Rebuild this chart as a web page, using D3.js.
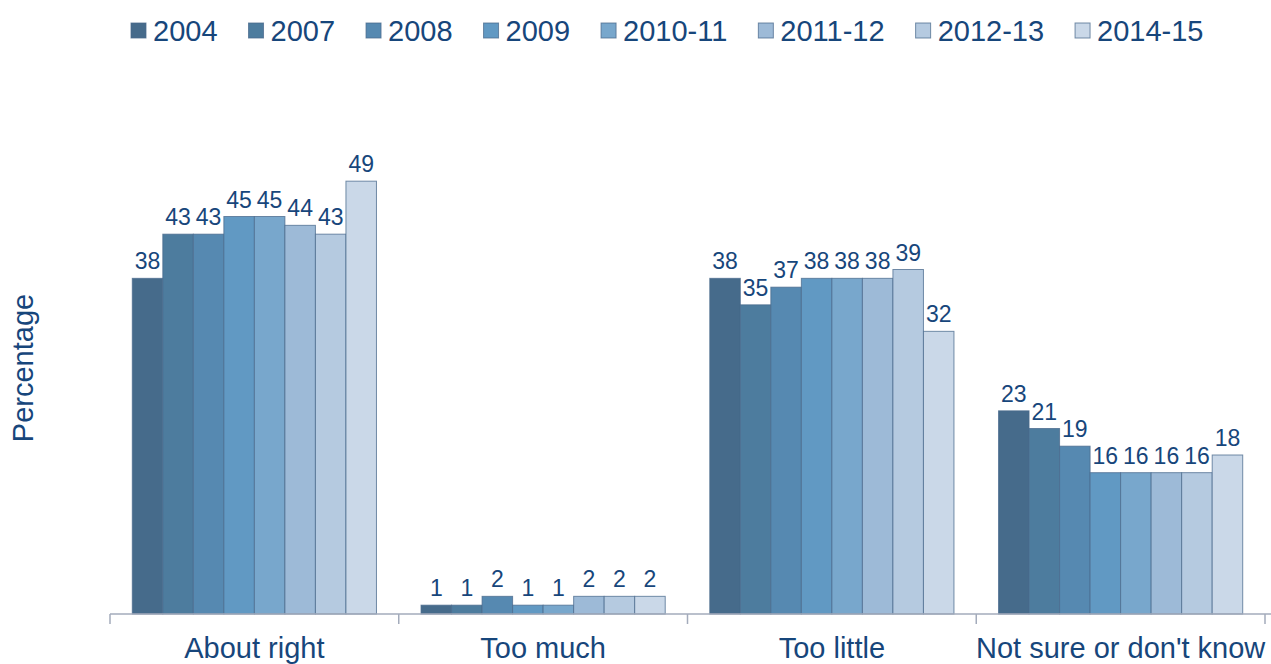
<!DOCTYPE html>
<html>
<head>
<meta charset="utf-8">
<script src="https://cdn.jsdelivr.net/npm/d3@7/dist/d3.min.js"></script>
<style>
  html, body { margin: 0; padding: 0; background: #fff; }
  svg { display: block; font-family: "Liberation Sans", Arial, sans-serif; }
</style>
</head>
<body>
<svg id="chart" width="1271" height="664"></svg>
<script>
const categories = ["About right", "Too much", "Too little", "Not sure or don't know"];
const seriesNames = ["2004", "2007", "2008", "2009", "2010-11", "2011-12", "2012-13", "2014-15"];
const v2004   = [38, 1, 38, 23];
const v2007   = [43, 1, 35, 21];
const v2008   = [43, 2, 37, 19];
const v2009   = [45, 1, 38, 16];
const v201011 = [45, 1, 38, 16];
const v201112 = [44, 2, 38, 16];
const v201213 = [43, 2, 39, 16];
const v201415 = [49, 2, 32, 18];
const seriesValues = [v2004, v2007, v2008, v2009, v201011, v201112, v201213, v201415];
const colors = ["#466b8b", "#4d7c9e", "#5689b1", "#6199c3", "#78a7cc", "#9dbad7", "#b5cae0", "#cad8e8"];

const textColor = "#17467b";
const svg = d3.select("#chart");

const x0 = d3.scaleBand().domain(categories).range([110, 1265]).paddingInner(0).paddingOuter(0);
const x1 = d3.scaleBand().domain(seriesNames).range([0, x0.bandwidth()]).paddingInner(0).paddingOuter(0.73);
const y = d3.scaleLinear().domain([0, 60]).range([614, 84]);

// bars
const groups = svg.append("g").selectAll("g")
  .data(categories).join("g")
  .attr("transform", d => `translate(${x0(d)},0)`);

groups.each(function(cat, ci) {
  const g = d3.select(this);
  seriesNames.forEach((s, si) => {
    const v = seriesValues[si][ci];
    g.append("rect")
      .attr("x", x1(s))
      .attr("y", y(v))
      .attr("width", x1.bandwidth())
      .attr("height", y(0) - y(v))
      .attr("fill", colors[si])
      .attr("stroke", "#4a6a8c")
      .attr("stroke-opacity", 0.75)
      .attr("stroke-width", 1);
    g.append("text")
      .attr("x", x1(s) + x1.bandwidth() / 2)
      .attr("y", y(v) - 9)
      .attr("text-anchor", "middle")
      .attr("font-size", 23)
      .attr("fill", textColor)
      .text(v);
  });
});

// x axis
const axis = svg.append("g").attr("transform", `translate(0,${y(0)})`);
axis.append("line").attr("x1", 110).attr("x2", 1271).attr("y1", 0).attr("y2", 0)
  .attr("stroke", "#a3abbb").attr("stroke-width", 1.5);
const tickPos = categories.map(c => x0(c)).concat([x0(categories[categories.length - 1]) + x0.bandwidth()]);
axis.selectAll("line.tick").data(tickPos).join("line")
  .attr("class", "tick")
  .attr("x1", d => d).attr("x2", d => d).attr("y1", 0).attr("y2", 10)
  .attr("stroke", "#a3abbb").attr("stroke-width", 1.5);
axis.selectAll("text").data(categories).join("text")
  .attr("x", d => x0(d) + x0.bandwidth() / 2)
  .attr("y", 44)
  .attr("text-anchor", "middle")
  .attr("font-size", 29)
  .attr("fill", textColor)
  .text(d => d);

// y label
svg.append("text")
  .attr("transform", "translate(33,368) rotate(-90)")
  .attr("text-anchor", "middle")
  .attr("font-size", 29)
  .attr("fill", textColor)
  .text("Percentage");

// legend
const legend = svg.append("g");
let lx = 131;
seriesNames.forEach((s, i) => {
  legend.append("rect")
    .attr("x", lx).attr("y", 23).attr("width", 15).attr("height", 15)
    .attr("fill", colors[i]).attr("stroke", "#4a6a8c").attr("stroke-opacity", 0.75);
  const t = legend.append("text")
    .attr("x", lx + 22).attr("y", 41)
    .attr("font-size", 29)
    .attr("fill", textColor)
    .text(s);
  const w = t.node().getComputedTextLength();
  lx += 22 + w + 31;
});
</script>
</body>
</html>
